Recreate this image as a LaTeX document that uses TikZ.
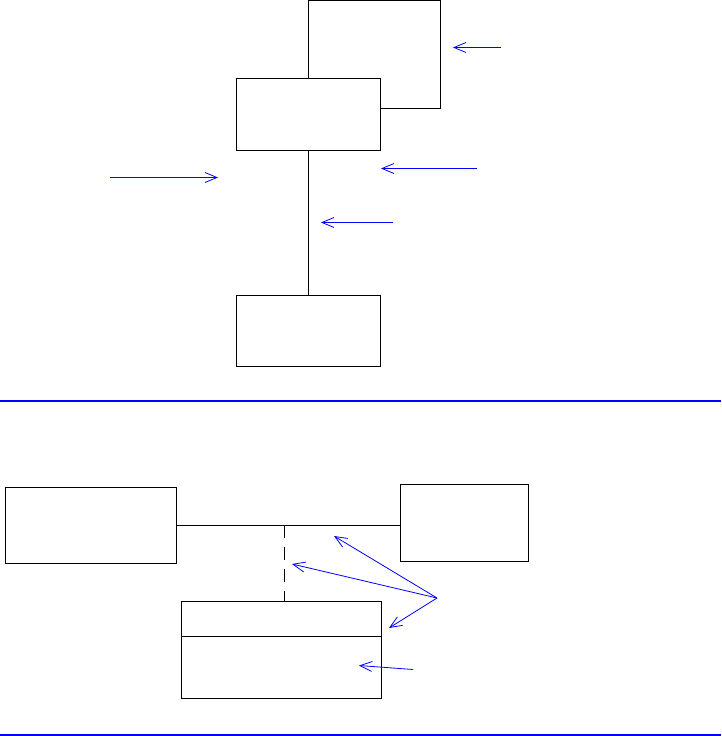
\documentclass[tikz,border=0pt]{standalone}
\usetikzlibrary{arrows.meta, positioning}

\tikzset{
  umlbox/.style={draw, fill=white, line width=0.9pt, inner sep=0pt, outer sep=0pt},
  note/.style={blue, line width=0.8pt, -{Straight Barb[length=12pt,width=10pt]}},
  rule/.style={blue, line width=2pt}
}

\begin{document}
\begin{tikzpicture}[x=1pt, y=-1pt]
  \useasboundingbox (0,0) rectangle (721,736);
  % upper part
  \node[umlbox, minimum width=132pt, minimum height=108pt] (outer) at (374,54) {};
  \node[umlbox, minimum width=144pt, minimum height=72pt] (inner) at (308,114) {};
  \node[umlbox, minimum width=144pt, minimum height=71pt] (lower) at (308,330.5) {};
  \draw[line width=0.9pt] (inner.south) -- (lower.north);

  \coordinate (t1) at (501,47.5);   \coordinate (h1) at (453,47.5);
  \coordinate (t2) at (477,168.5);  \coordinate (h2) at (381,168.5);
  \coordinate (t3) at (110,177.5);  \coordinate (h3) at (218,177.5);
  \coordinate (t4) at (393,222.5);  \coordinate (h4) at (321,222.5);
  \foreach \i in {1,...,4}
    \draw[note] (t\i) -- (h\i);

  \draw[rule] (0,400.5) -- (721,400.5);

  % lower part
  \node[umlbox, minimum width=171pt, minimum height=76pt] (left) at (90.5,525) {};
  \node[umlbox, minimum width=128pt, minimum height=77pt] (right) at (464,522.5) {};
  \node[umlbox, minimum width=200pt, minimum height=35pt] (cls) at (281,618.5) {};
  \node[umlbox, minimum width=200pt, minimum height=62pt, below=0pt of cls] (clsbody) {};
  \draw[line width=0.9pt] (left.east) -- (left.east -| right.west);
  \coordinate (mid) at (284,525);
  \draw[line width=0.9pt, dash pattern=on 13pt off 9pt] (mid) -- (mid |- cls.north);

  \coordinate (src) at (437,598);
  \draw[note] (src) -- (334,536);
  \draw[note] (src) -- (292,564);
  \draw[note] (src) -- (389,628);
  \coordinate (t5) at (413,669.5);
  \draw[note] (t5) -- (359,665.5);

  \draw[rule] (0,735) -- (721,735);
\end{tikzpicture}
\end{document}
